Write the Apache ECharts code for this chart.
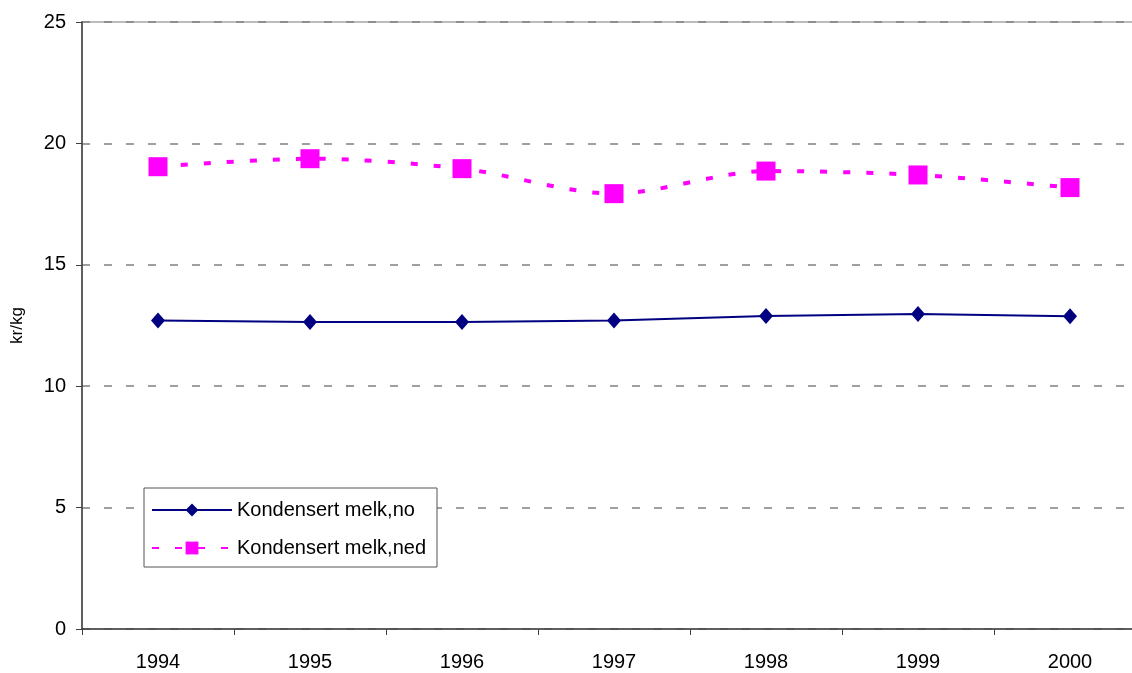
<!DOCTYPE html>
<html>
<head>
<meta charset="UTF-8">
<script src="https://cdn.jsdelivr.net/npm/echarts@6/dist/echarts.min.js"></script>
<title>Kondensert melk</title>
<style>
  html, body { margin: 0; padding: 0; background: #fff; overflow: hidden; }
  /* plot area runs past the right edge in the original, so the canvas is wider than the window */
  #chart { width: 1160px; height: 673px; }
</style>
</head>
<body>
<div id="chart"></div>
<script>
var years = ['1994', '1995', '1996', '1997', '1998', '1999', '2000'];
var melkNo = [12.71, 12.64, 12.64, 12.71, 12.89, 12.97, 12.88];
var melkNed = [19.04, 19.37, 18.96, 17.93, 18.86, 18.70, 18.18];

var chart = echarts.init(document.getElementById('chart'));
var option = {
    backgroundColor: '#fff',
    animation: false,
    textStyle: { fontFamily: 'Liberation Sans, Arial, sans-serif' },
    grid: {
        left: 82, top: 22, width: 1064, height: 607,
        outerBoundsMode: 'none',
        containLabel: false,
        show: true, borderColor: '#a6a6a6', borderWidth: 1.5
    },
    legend: {
        orient: 'vertical',
        left: 144, top: 488,
        padding: [12, 11, 9, 7],
        itemGap: 18,
        itemWidth: 80, itemHeight: 16,
        backgroundColor: '#fff',
        borderColor: '#555',
        borderWidth: 1,
        textStyle: { fontSize: 20, color: '#000', fontFamily: 'Liberation Sans, Arial, sans-serif' },
        data: ['Kondensert melk,no', 'Kondensert melk,ned']
    },
    xAxis: {
        type: 'category',
        data: years,
        boundaryGap: true,
        axisLine: { lineStyle: { color: '#404040', width: 1.5 } },
        axisTick: { show: true, length: 6, lineStyle: { color: '#404040' } },
        axisLabel: { fontSize: 20, color: '#000', margin: 23 },
        splitLine: { show: false }
    },
    yAxis: {
        type: 'value',
        min: 0, max: 25, interval: 5,
        name: 'kr/kg',
        nameLocation: 'middle',
        nameGap: 56,
        nameRotate: 90,
        nameTextStyle: { fontSize: 17, color: '#000' },
        axisLine: { show: true, lineStyle: { color: '#404040', width: 1.5 } },
        axisTick: { show: true, length: 6, lineStyle: { color: '#404040' } },
        axisLabel: { fontSize: 20, color: '#000', margin: 16 },
        splitLine: { show: true, lineStyle: { color: '#808080', width: 1.5, type: [8, 14] } }
    },
    series: [
        {
            name: 'Kondensert melk,no',
            type: 'line',
            data: melkNo,
            symbol: 'diamond',
            symbolSize: [14, 16],
            itemStyle: { color: '#000080' },
            lineStyle: { color: '#000080', width: 2 },
            z: 3
        },
        {
            name: 'Kondensert melk,ned',
            type: 'line',
            data: melkNed,
            smooth: 0.3,
            symbol: 'rect',
            symbolSize: 19,
            itemStyle: { color: '#ff00ff' },
            lineStyle: { color: '#ff00ff', width: 4, type: [7, 16] },
            z: 4
        }
    ]
};
chart.setOption(option);
</script>
</body>
</html>
